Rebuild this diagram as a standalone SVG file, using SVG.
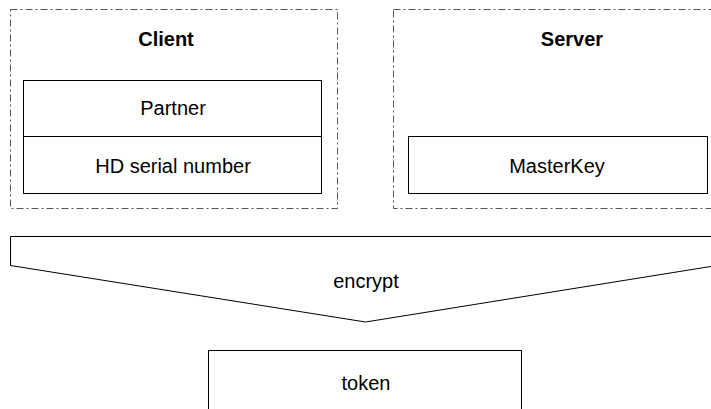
<svg xmlns="http://www.w3.org/2000/svg" width="711" height="409" viewBox="0 0 711 409">
<style>
.bg{fill:#fff}
.grp{fill:none;stroke:#555;stroke-width:1;stroke-dasharray:7 3 2 3}
.box{fill:#fff;stroke:#000;stroke-width:1}
.t{font-family:"Liberation Sans",Arial,sans-serif;font-size:20px;fill:#000;text-anchor:middle}
.b{font-weight:bold}
</style>
<rect class="bg" x="0" y="0" width="711" height="409"/>
<g id="client">
<rect class="grp" x="10.5" y="9.5" width="327" height="199"/>
<text class="t b" x="166" y="46">Client</text>
</g>
<g id="server">
<rect class="grp" x="393.5" y="9.5" width="330" height="199"/>
<text class="t b" x="572" y="46">Server</text>
</g>
<g id="partner">
<rect class="box" x="23.5" y="80.5" width="298" height="56"/>
<text class="t" x="173" y="115">Partner</text>
</g>
<g id="hdserial">
<rect class="box" x="23.5" y="136.5" width="298" height="57"/>
<text class="t" x="173" y="173">HD serial number</text>
</g>
<g id="masterkey">
<rect class="box" x="408.5" y="136.5" width="299" height="57"/>
<text class="t" x="557" y="173">MasterKey</text>
</g>
<g id="encrypt">
<path class="box" d="M10.5 236.5 L720 236.5 L720 265 L365.5 322 L10.5 265.5 Z"/>
<text class="t" x="366" y="288">encrypt</text>
</g>
<g id="token">
<rect class="box" x="208.5" y="350.5" width="313" height="80"/>
<text class="t" x="366" y="390">token</text>
</g>
<g id="connectors"></g>
</svg>
